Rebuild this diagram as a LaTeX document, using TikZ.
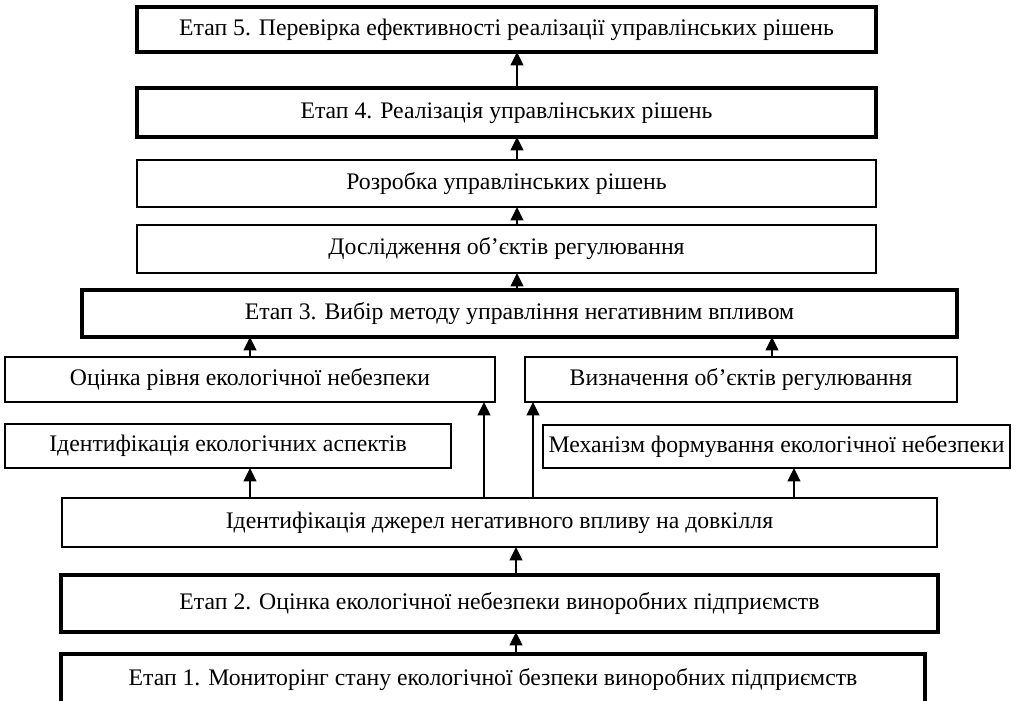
\documentclass[tikz,border=0pt]{standalone}
\usepackage{fontspec}
\setmainfont{Liberation Serif}
\usetikzlibrary{arrows.meta}
\begin{document}
\begin{tikzpicture}[x=0.75pt,y=-0.75pt,
  box/.style={draw, line width=1.2pt, inner sep=0pt, outer sep=0pt, align=center,
    text height=12.5pt, text depth=4pt, font=\fontsize{17.8}{20}\selectfont},
  stage/.style={box, line width=3pt},
  arr/.style={line width=1.4pt, -{Triangle[width=9.5pt,length=10pt]}}]
\useasboundingbox (0,0) rectangle (1020,700);
\node[stage, minimum width=554.25pt, minimum height=33.75pt] (e5) at (506.5,29.5) {Етап 5. Перевірка ефективності реалізації управлінських рішень};
\node[stage, minimum width=554.25pt, minimum height=36.75pt] (e4) at (506.5,112.5) {Етап 4. Реалізація управлінських рішень};
\node[box, minimum width=554.25pt, minimum height=35.25pt] (rozr) at (506.5,183.5) {Розробка управлінських рішень};
\node[box, minimum width=554.25pt, minimum height=36pt] (dosl) at (506.5,249) {Дослідження об’єктів регулювання};
\node[stage, minimum width=656.25pt, minimum height=35.25pt] (e3) at (519.5,313.5) {Етап 3. Вибір методу управління негативним впливом};
\node[box, minimum width=367.5pt, minimum height=33.75pt] (ocin) at (250,379.5) {Оцінка рівня екологічної небезпеки};
\node[box, minimum width=324pt, minimum height=33.75pt] (vyzn) at (741,379.5) {Визначення об’єктів регулювання};
\node[box, minimum width=334.5pt, minimum height=33pt] (ident) at (228,446) {Ідентифікація екологічних аспектів};
\node[box, minimum width=350.25pt, minimum height=32.25pt] (mech) at (776.5,446.5) {Механізм формування екологічної небезпеки};
\node[box, minimum width=656.25pt, minimum height=36.75pt] (dzh) at (499.5,522.5) {Ідентифікація джерел негативного впливу на довкілля};
\node[stage, minimum width=657.75pt, minimum height=42.75pt] (e2) at (499.5,603.5) {Етап 2. Оцінка екологічної небезпеки виноробних підприємств};
\node[stage, minimum width=648pt, minimum height=39pt] (e1) at (493,680) {Етап 1. Мониторінг стану екологічної безпеки виноробних підприємств};
\coordinate (c1) at (517,0);
\coordinate (c2) at (250,0);
\coordinate (c3) at (772,0);
\coordinate (c4) at (484,0);
\coordinate (c5) at (533,0);
\coordinate (c6) at (794,0);
\coordinate (c7) at (516,0);
\draw[arr] (e4.north -| c1) -- (e5.south -| c1);
\draw[arr] (rozr.north -| c1) -- (e4.south -| c1);
\draw[arr] (dosl.north -| c1) -- (rozr.south -| c1);
\draw[arr] (e3.north -| c1) -- (dosl.south -| c1);
\draw[arr] (ocin.north -| c2) -- (e3.south -| c2);
\draw[arr] (vyzn.north -| c3) -- (e3.south -| c3);
\draw[arr] (dzh.north -| c2) -- (ident.south -| c2);
\draw[arr] (dzh.north -| c6) -- (mech.south -| c6);
\draw[arr] (dzh.north -| c4) -- (ocin.south -| c4);
\draw[arr] (dzh.north -| c5) -- (vyzn.south -| c5);
\draw[arr] (e2.north -| c7) -- (dzh.south -| c7);
\draw[arr] (e1.north -| c7) -- (e2.south -| c7);
\end{tikzpicture}
\end{document}
